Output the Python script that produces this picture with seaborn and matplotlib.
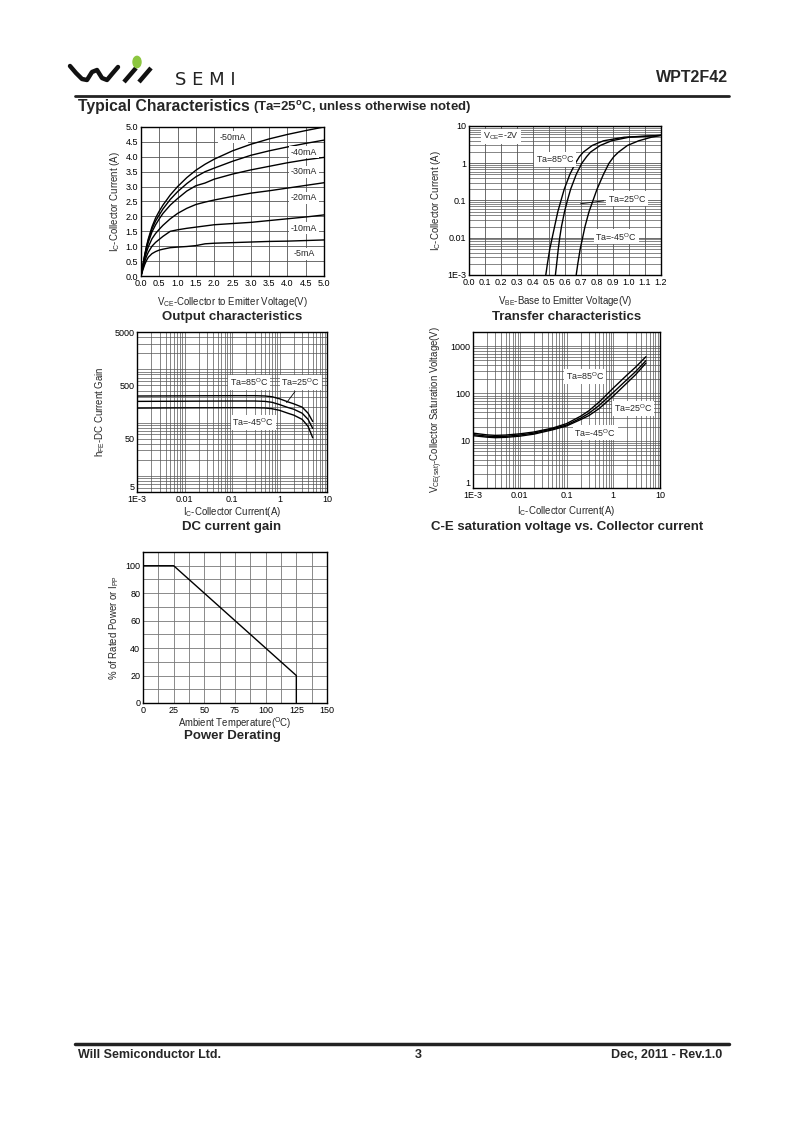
import numpy as np
import pandas as pd
import matplotlib
matplotlib.use('Agg')
import matplotlib.pyplot as plt
import seaborn as sns
from matplotlib.lines import Line2D
from matplotlib.patches import Circle
from matplotlib.ticker import FixedLocator, NullFormatter, LogLocator

# ------------------------------------------------------------
# DATA
# ------------------------------------------------------------
# Output characteristics: Ic vs Vce for several base currents
vce = [0.0, 0.05, 0.1, 0.15, 0.2, 0.3, 0.4, 0.5, 0.6, 0.8, 1.0, 1.25, 1.5,
       1.75, 2.0, 2.5, 3.0, 3.5, 4.0, 4.5, 5.0]
ic_50ma = [0.0, 0.35, 0.70, 1.00, 1.25, 1.65, 1.95, 2.18, 2.38, 2.72, 3.00, 3.30, 3.55,
           3.75, 3.92, 4.20, 4.42, 4.60, 4.75, 4.88, 5.00]
ic_40ma = [0.0, 0.35, 0.68, 0.97, 1.20, 1.58, 1.85, 2.05, 2.25, 2.57, 2.83, 3.10, 3.33,
           3.50, 3.62, 3.85, 4.05, 4.20, 4.33, 4.45, 4.56]
ic_30ma = [0.0, 0.33, 0.65, 0.92, 1.13, 1.48, 1.72, 1.92, 2.10, 2.38, 2.60, 2.85, 3.03,
           3.12, 3.25, 3.42, 3.56, 3.68, 3.80, 3.90, 3.98]
ic_20ma = [0.0, 0.30, 0.58, 0.80, 0.98, 1.25, 1.43, 1.57, 1.70, 1.92, 2.10, 2.27, 2.40,
           2.48, 2.55, 2.67, 2.78, 2.86, 2.95, 3.04, 3.13]
ic_10ma = [0.0, 0.25, 0.48, 0.66, 0.80, 1.00, 1.13, 1.23, 1.33, 1.50, 1.55, 1.60, 1.64,
           1.68, 1.72, 1.76, 1.80, 1.86, 1.92, 1.98, 2.05]
ic_5ma = [0.0, 0.20, 0.38, 0.52, 0.63, 0.75, 0.82, 0.87, 0.90, 0.95, 0.97, 0.99, 1.02,
          1.08, 1.10, 1.12, 1.14, 1.16, 1.17, 1.19, 1.21]
out_labels = ['-50mA', '-40mA', '-30mA', '-20mA', '-10mA', '-5mA']

# Transfer characteristics: Ic vs Vbe at three temperatures
ic_transfer = [0.001, 0.002, 0.005, 0.01, 0.02, 0.05, 0.1, 0.2, 0.5, 1.0, 1.5,
               2.0, 3.0, 4.0, 5.0, 5.6]
vbe_85c = [0.48, 0.49, 0.505, 0.52, 0.535, 0.555, 0.575, 0.595, 0.63, 0.665, 0.69,
           0.715, 0.77, 0.84, 0.97, 1.20]
vbe_25c = [0.54, 0.548, 0.558, 0.567, 0.578, 0.597, 0.615, 0.635, 0.67, 0.705, 0.735,
           0.76, 0.82, 0.89, 1.00, 1.20]
vbe_m45c = [0.67, 0.68, 0.695, 0.71, 0.725, 0.75, 0.775, 0.80, 0.84, 0.875, 0.905,
            0.935, 0.99, 1.06, 1.14, 1.20]

# DC current gain: hFE vs Ic
ic_gain = [0.001, 0.01, 0.1, 0.3, 0.5, 0.7, 1.0, 1.5, 2.0, 3.0, 4.0, 5.0]
hfe_85c = [315, 318, 320, 320, 316, 305, 280, 245, 225, 195, 150, 105]
hfe_25c = [250, 252, 254, 254, 250, 240, 218, 192, 178, 150, 115, 78]
hfe_m45c = [187, 189, 190, 190, 188, 182, 170, 150, 138, 115, 85, 52]

# C-E saturation voltage vs collector current (mV)
ic_sat = [0.001, 0.002, 0.003, 0.005, 0.01, 0.02, 0.05, 0.1, 0.2, 0.3, 0.5,
          1.0, 2.0, 3.0, 5.0]
vsat_85c = [14.5, 13.3, 13.0, 13.2, 14.0, 15.3, 18.5, 23.0, 33.0, 43.0, 66.0,
            130, 250, 360, 600]
vsat_25c = [13.5, 12.5, 12.2, 12.4, 13.2, 14.5, 17.8, 21.5, 30.0, 38.0, 56.0,
            105, 200, 290, 495]
vsat_m45c = [12.8, 11.9, 11.6, 11.8, 12.5, 13.8, 17.0, 20.5, 28.0, 34.0, 48.0,
             88, 170, 250, 440]

# Power derating
temp_c = [0, 25, 125, 125]
rated_pct = [100, 100, 20, 0]

temp_labels = ['Ta=85$^{O}$C', 'Ta=25$^{O}$C', 'Ta=-45$^{O}$C']

# ------------------------------------------------------------
# STYLE
# ------------------------------------------------------------
sns.set_style('white')
plt.rcParams['font.family'] = ['Liberation Sans', 'DejaVu Sans']
plt.rcParams['mathtext.fontset'] = 'custom'
plt.rcParams['mathtext.rm'] = 'Liberation Sans'
plt.rcParams['mathtext.it'] = 'Liberation Sans:italic'
plt.rcParams['mathtext.bf'] = 'Liberation Sans:bold'
plt.rcParams['mathtext.default'] = 'regular'

GRID = '#555555'
TICK_FS = 6.5
LABEL_FS = 6.9
TITLE_FS = 9.5
W, H = 800, 1132

fig = plt.figure(figsize=(8.0, 11.32), dpi=100)


def px_axes(x0, y0, x1, y1):
    # axes from pixel box (top-left origin)
    return fig.add_axes([x0 / W, 1 - y1 / H, (x1 - x0) / W, (y1 - y0) / H])


def style_axes(ax):
    for s in ax.spines.values():
        s.set_color('black')
        s.set_linewidth(1.0)
    ax.tick_params(which='both', length=0, labelsize=TICK_FS, pad=2, colors='black')
    ax.set_axisbelow(True)


def curve(ax, x, y):
    sns.lineplot(x=x, y=y, ax=ax, color='black', lw=1.0, sort=False,
                 estimator=None, legend=False)


def tag(ax, x, y, s, **kw):
    ax.text(x, y, s, fontsize=6.4, ha='center', va='center',
            bbox=dict(facecolor='white', edgecolor='none', pad=1.2), zorder=5, **kw)


def title_below(x_px, y_px, s):
    fig.text(x_px / W, 1 - y_px / H, s, fontsize=TITLE_FS, fontweight='bold',
             ha='center', va='center')


# ------------------------------------------------------------
# PANEL 1 - Output characteristics
# ------------------------------------------------------------
ax1 = px_axes(141, 127, 324, 276)
style_axes(ax1)
for ic in [ic_50ma, ic_40ma, ic_30ma, ic_20ma, ic_10ma, ic_5ma]:
    curve(ax1, vce, ic)
ax1.set_xlim(0, 5)
ax1.set_ylim(0, 5)
ticks = np.arange(0, 5.01, 0.5)
ax1.set_xticks(ticks)
ax1.set_yticks(ticks)
ax1.set_xticklabels([f'{t:.1f}' for t in ticks])
ax1.set_yticklabels([f'{t:.1f}' for t in ticks])
ax1.grid(True, color=GRID, lw=0.6)
ax1.set_xlabel('V$_{CE}$-Collector to Emitter Voltage(V)', fontsize=LABEL_FS, labelpad=5)
ax1.set_ylabel('I$_{C}$-Collector Current (A)', fontsize=LABEL_FS, labelpad=3)
out_label_pos = [(2.51, 4.66), (4.45, 4.16), (4.45, 3.49), (4.45, 2.62), (4.45, 1.61), (4.45, 0.74)]
for (lx, ly), s in zip(out_label_pos, out_labels):
    tag(ax1, lx, ly, s)
title_below(232, 317, 'Output characteristics')

# ------------------------------------------------------------
# PANEL 2 - Transfer characteristics
# ------------------------------------------------------------
ax2 = px_axes(469, 126, 661, 275)
style_axes(ax2)
ax2.set_yscale('log')
for vbe in [vbe_85c, vbe_25c, vbe_m45c]:
    curve(ax2, vbe, ic_transfer)
ax2.set_xlim(0, 1.2)
ax2.set_ylim(1e-3, 10)
xt = np.round(np.arange(0, 1.201, 0.1), 1)
ax2.set_xticks(xt)
ax2.set_xticklabels([f'{t:.1f}' for t in xt])
ax2.yaxis.set_major_locator(FixedLocator([1e-3, 1e-2, 1e-1, 1, 10]))
ax2.set_yticklabels(['1E-3', '0.01', '0.1', '1', '10'])
ax2.yaxis.set_minor_locator(LogLocator(base=10, subs=np.arange(2, 10)))
ax2.yaxis.set_minor_formatter(NullFormatter())
ax2.grid(True, which='major', color=GRID, lw=0.6)
ax2.grid(True, which='minor', axis='y', color=GRID, lw=0.5)
ax2.set_xlabel('V$_{BE}$-Base to Emitter Voltage(V)', fontsize=LABEL_FS, labelpad=5)
ax2.set_ylabel('I$_{C}$-Collector Current (A)', fontsize=LABEL_FS, labelpad=3)
tag(ax2, 0.2, 5.3, 'V$_{CE}$=-2V')
tag(ax2, 0.54, 1.25, temp_labels[0])
tag(ax2, 0.99, 0.11, temp_labels[1])
tag(ax2, 0.92, 0.0105, temp_labels[2])
ax2.annotate('', xy=(0.68, 0.08), xytext=(0.86, 0.1),
             arrowprops=dict(arrowstyle='-', color='black', lw=0.6))
title_below(567, 317, 'Transfer characteristics')

# ------------------------------------------------------------
# PANEL 3 - DC current gain
# ------------------------------------------------------------
ax3 = px_axes(137, 332, 327, 492)
style_axes(ax3)
ax3.set_xscale('log')
ax3.set_yscale('log')
for hfe in [hfe_85c, hfe_25c, hfe_m45c]:
    curve(ax3, ic_gain, hfe)
ax3.set_xlim(1e-3, 10)
ax3.set_ylim(5, 5000)
ax3.xaxis.set_major_locator(FixedLocator([1e-3, 1e-2, 1e-1, 1, 10]))
ax3.set_xticklabels(['1E-3', '0.01', '0.1', '1', '10'])
ax3.yaxis.set_major_locator(FixedLocator([5, 50, 500, 5000]))
ax3.set_yticklabels(['5', '50', '500', '5000'])
ax3.get_yticklabels()[0].set_verticalalignment('bottom')
ax3.xaxis.set_minor_locator(LogLocator(base=10, subs=np.arange(2, 10)))
ax3.yaxis.set_minor_locator(LogLocator(base=10, subs=np.arange(1, 10)))
ax3.xaxis.set_minor_formatter(NullFormatter())
ax3.yaxis.set_minor_formatter(NullFormatter())
ax3.grid(True, which='both', color=GRID, lw=0.5)
ax3.set_xlabel('I$_{C}$-Collector Current(A)', fontsize=LABEL_FS, labelpad=1)
ax3.set_ylabel('h$_{FE}$-DC Current Gain', fontsize=LABEL_FS, labelpad=5)
tag(ax3, 0.23, 575, temp_labels[0])
tag(ax3, 2.8, 575, temp_labels[1])
tag(ax3, 0.28, 102, temp_labels[2])
ax3.annotate('', xy=(1.3, 215), xytext=(2.3, 420),
             arrowprops=dict(arrowstyle='-', color='black', lw=0.6))
title_below(232, 527, 'DC current gain')

# ------------------------------------------------------------
# PANEL 4 - C-E saturation voltage
# ------------------------------------------------------------
ax4 = px_axes(473, 332, 660, 488)
style_axes(ax4)
ax4.set_xscale('log')
ax4.set_yscale('log')
for vs in [vsat_85c, vsat_25c, vsat_m45c]:
    curve(ax4, ic_sat, vs)
ax4.set_xlim(1e-3, 10)
ax4.set_ylim(1, 2000)
ax4.xaxis.set_major_locator(FixedLocator([1e-3, 1e-2, 1e-1, 1, 10]))
ax4.set_xticklabels(['1E-3', '0.01', '0.1', '1', '10'])
ax4.yaxis.set_major_locator(FixedLocator([1, 10, 100, 1000]))
ax4.set_yticklabels(['1', '10', '100', '1000'])
ax4.get_yticklabels()[0].set_verticalalignment('bottom')
ax4.xaxis.set_minor_locator(LogLocator(base=10, subs=np.arange(2, 10)))
ax4.yaxis.set_minor_locator(LogLocator(base=10, subs=np.arange(2, 10)))
ax4.xaxis.set_minor_formatter(NullFormatter())
ax4.yaxis.set_minor_formatter(NullFormatter())
ax4.grid(True, which='both', color=GRID, lw=0.5)
ax4.set_xlabel('I$_{C}$-Collector Current(A)', fontsize=LABEL_FS, labelpad=3)
ax4.set_ylabel('V$_{CE(sat)}$-Collector Saturation Voltage(V)', fontsize=LABEL_FS, labelpad=4)
tag(ax4, 0.25, 230, temp_labels[0])
tag(ax4, 2.65, 48, temp_labels[1])
tag(ax4, 0.41, 14.8, temp_labels[2])
title_below(567, 527, 'C-E saturation voltage vs. Collector current')

# ------------------------------------------------------------
# PANEL 5 - Power derating
# ------------------------------------------------------------
ax5 = px_axes(143, 552, 327, 703)
style_axes(ax5)
curve(ax5, temp_c, rated_pct)
ax5.set_xlim(0, 150)
ax5.set_ylim(0, 110)
ax5.set_xticks(np.arange(0, 151, 25))
ax5.set_yticks(np.arange(0, 101, 20))
ax5.set_xticks(np.arange(0, 151, 12.5), minor=True)
ax5.set_yticks(np.arange(0, 111, 10), minor=True)
ax5.grid(True, which='both', color='#777777', lw=0.6)
ax5.set_xlabel('Ambient Temperature($^{O}$C)', fontsize=LABEL_FS, labelpad=0)
ax5.set_ylabel('% of Rated Power or I$_{PP}$', fontsize=LABEL_FS, labelpad=3)
title_below(232, 736, 'Power Derating')

# ------------------------------------------------------------
# PAGE HEADER / FOOTER
# ------------------------------------------------------------
# logo: wave + two slashes + green dot
wave_x = [70, 76, 82, 87, 92, 97, 102, 107, 112, 118]
wave_y = [66, 73, 79, 80, 72, 70, 78, 80, 74, 67]
fig.add_artist(Line2D([x / W for x in wave_x], [1 - y / H for y in wave_y],
                      color='#111111', lw=3.2, solid_capstyle='round'))
for x0 in [124, 139]:
    fig.add_artist(Line2D([x0 / W, (x0 + 12) / W], [1 - 82 / H, 1 - 68 / H],
                          color='#111111', lw=3.2, solid_capstyle='butt'))
fig.add_artist(Circle((137 / W, 1 - 62 / H), 4 / W, transform=fig.transFigure,
                      color='#8cc63f', zorder=5))
fig.text(175 / W, 1 - 80 / H, 'S E M I', fontsize=13, ha='left', va='center',
         color='#222222', family=['DejaVu Sans'])
fig.text(728 / W, 1 - 78 / H, 'WPT2F42', fontsize=11.5, fontweight='bold',
         ha='right', va='center')
fig.add_artist(Line2D([75 / W, 729 / W], [1 - 96 / H, 1 - 96 / H], color='#222222', lw=2))

fig.text(78 / W, 1 - 107 / H, 'Typical Characteristics', fontsize=11.3,
         fontweight='bold', ha='left', va='center')
fig.text(253 / W, 1 - 108 / H, '(Ta=25$^{o}$C, unless otherwise noted)', fontsize=9.5,
         fontweight='bold', ha='left', va='center')

fig.add_artist(Line2D([75 / W, 729 / W], [1 - 1044 / H, 1 - 1044 / H], color='#222222', lw=2.5))
fig.text(78 / W, 1 - 1055 / H, 'Will Semiconductor Ltd.', fontsize=9,
         fontweight='bold', ha='left', va='center')
fig.text(418 / W, 1 - 1055 / H, '3', fontsize=9, fontweight='bold',
         ha='center', va='center')
fig.text(722 / W, 1 - 1055 / H, 'Dec, 2011 - Rev.1.0', fontsize=9,
         fontweight='bold', ha='right', va='center')

fig.savefig('out.png', dpi=100, facecolor='white')
